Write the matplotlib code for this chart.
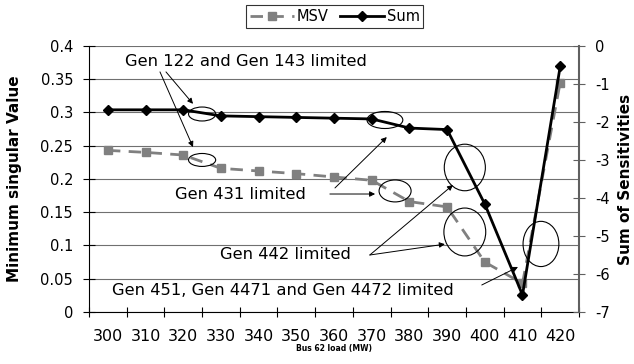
##----------Importing necessary packages-------------
import numpy as np
import matplotlib
matplotlib.use('Agg')
import matplotlib.pyplot as plt
from matplotlib.patches import Ellipse

plt.rcParams['axes.unicode_minus'] = False
plt.rcParams['font.family'] = ['DejaVu Sans']

##-----------Data----------------------------------------------------------
loads = [300, 310, 320, 330, 340, 350, 360, 370, 380, 390, 400, 410, 420]
msv = [0.243, 0.240, 0.236, 0.216, 0.212, 0.208, 0.203, 0.198, 0.166, 0.158, 0.075, 0.043, 0.345]
sens_sum = [-1.68, -1.68, -1.68, -1.84, -1.86, -1.88, -1.90, -1.92, -2.16, -2.20, -4.16, -6.55, -0.54]

msv_ticks = [0, 0.05, 0.1, 0.15, 0.2, 0.25, 0.3, 0.35, 0.4]
msv_ticklabels = ['0', '0.05', '0.1', '0.15', '0.2', '0.25', '0.3', '0.35', '0.4']
sum_ticks = [-7, -6, -5, -4, -3, -2, -1, 0]
sum_ticklabels = ['-7', '-6', '-5', '-4', '-3', '-2', '-1', '0']

##-----------Figure & axes---------------------------------------
fig = plt.figure(figsize=(6.34, 3.64), dpi=100)
ax = fig.add_axes([0.1404, 0.1429, 0.7729, 0.7308])
ax2 = ax.twinx()

xpos = np.arange(len(loads))

msv_line, = ax.plot(xpos, msv, color='#808080', lw=2, linestyle=(0, (4.5, 3)),
                    marker='s', markersize=6, markerfacecolor='#808080',
                    markeredgecolor='#808080', label='MSV', zorder=3)
sum_line, = ax2.plot(xpos, sens_sum, color='black', lw=2, marker='D',
                     markersize=5, label='Sum', zorder=3)

ax.set_xlim(-0.5, 12.5)
ax.set_ylim(0, 0.4)
ax2.set_ylim(-7, 0)

ax.set_xticks(xpos)
ax.set_xticklabels([str(v) for v in loads])
ax.set_xticks(np.arange(-0.5, 13, 1), minor=True)
ax.tick_params(axis='x', which='major', length=0, pad=12, labelsize=11.5)
ax.tick_params(axis='x', which='minor', direction='inout', length=7, width=0.8)

ax.set_yticks(msv_ticks)
ax.set_yticklabels(msv_ticklabels)
ax.tick_params(axis='y', direction='inout', length=9, width=0.8, pad=7, labelsize=10.5)

ax2.set_yticks(sum_ticks)
ax2.set_yticklabels(sum_ticklabels)
ax2.tick_params(axis='y', direction='inout', length=9, width=0.8, pad=7,
                labelsize=10.5, color='#606060')

ax.yaxis.grid(True, color='#707070', lw=0.8)
ax.set_axisbelow(True)

for s in ['top', 'right']:
    ax.spines[s].set_visible(False)
for s in ['top', 'left', 'bottom']:
    ax2.spines[s].set_visible(False)
ax2.spines['right'].set_color('#606060')
ax2.spines['right'].set_linewidth(1.5)

##-----------Axis titles---------------------------------------
fig.text(15 / 634, 1 - 179 / 364, 'Minimum singular Value', rotation=90,
         ha='center', va='center', fontsize=11, fontweight='bold')
fig.text(626 / 634, 1 - 179 / 364, 'Sum of Sensitivities', rotation=90,
         ha='center', va='center', fontsize=11, fontweight='bold')
fig.text(334 / 634, 1 - 349 / 364, 'Bus 62 load (MW)', ha='center', va='center',
         fontsize=5.5, fontweight='bold')

##-----------Legend---------------------------------------
leg = fig.legend(handles=[msv_line, sum_line], loc='center', ncol=2,
                 bbox_to_anchor=(0.528, 0.955), fontsize=10.5, frameon=True,
                 fancybox=False, edgecolor='black', handlelength=3.0,
                 handletextpad=0.2, columnspacing=0.8, borderpad=0.25)
leg.get_frame().set_linewidth(0.8)

##-----------Ellipses marking the limits---------------------------------------
ellipses = [(2.50, 0.2977, 0.72, 0.021), (2.50, 0.2286, 0.72, 0.0195),
            (7.35, 0.2887, 0.95, 0.0256), (7.62, 0.182, 0.85, 0.033),
            (9.47, 0.2173, 1.09, 0.070), (9.47, 0.1203, 1.11, 0.072),
            (11.49, 0.1023, 0.95, 0.068)]
for cx, cy, w, h in ellipses:
    ax.add_patch(Ellipse((cx, cy), w, h, fill=False, ec='black', lw=0.8, zorder=4))

##-----------Annotation text & arrows---------------------------------------
fs = 11.8
ax.text(0.455, 0.3774, 'Gen 122 and Gen 143 limited', fontsize=fs, va='center')
ax.text(1.78, 0.1774, 'Gen 431 limited', fontsize=fs, va='center')
ax.text(2.975, 0.0857, 'Gen 442 limited', fontsize=fs, va='center')
ax.text(0.11, 0.033, 'Gen 451, Gen 4471 and Gen 4472 limited', fontsize=fs, va='center')

arrows = [((1.383, 0.361), (2.259, 0.248)), ((1.542, 0.361), (2.259, 0.313)),
          ((6.025, 0.1865), (7.40, 0.263)), ((5.89, 0.1774), (7.09, 0.1774)),
          ((6.95, 0.0857), (9.155, 0.191)), ((6.95, 0.0857), (8.94, 0.102)),
          ((9.92, 0.0406), (10.88, 0.0677))]
for start, end in arrows:
    ax.annotate('', xy=end, xytext=start,
                arrowprops=dict(arrowstyle='-|>', color='black', lw=0.7,
                                mutation_scale=8, shrinkA=0, shrinkB=0), zorder=5)

fig.savefig('out.png', dpi=100)
